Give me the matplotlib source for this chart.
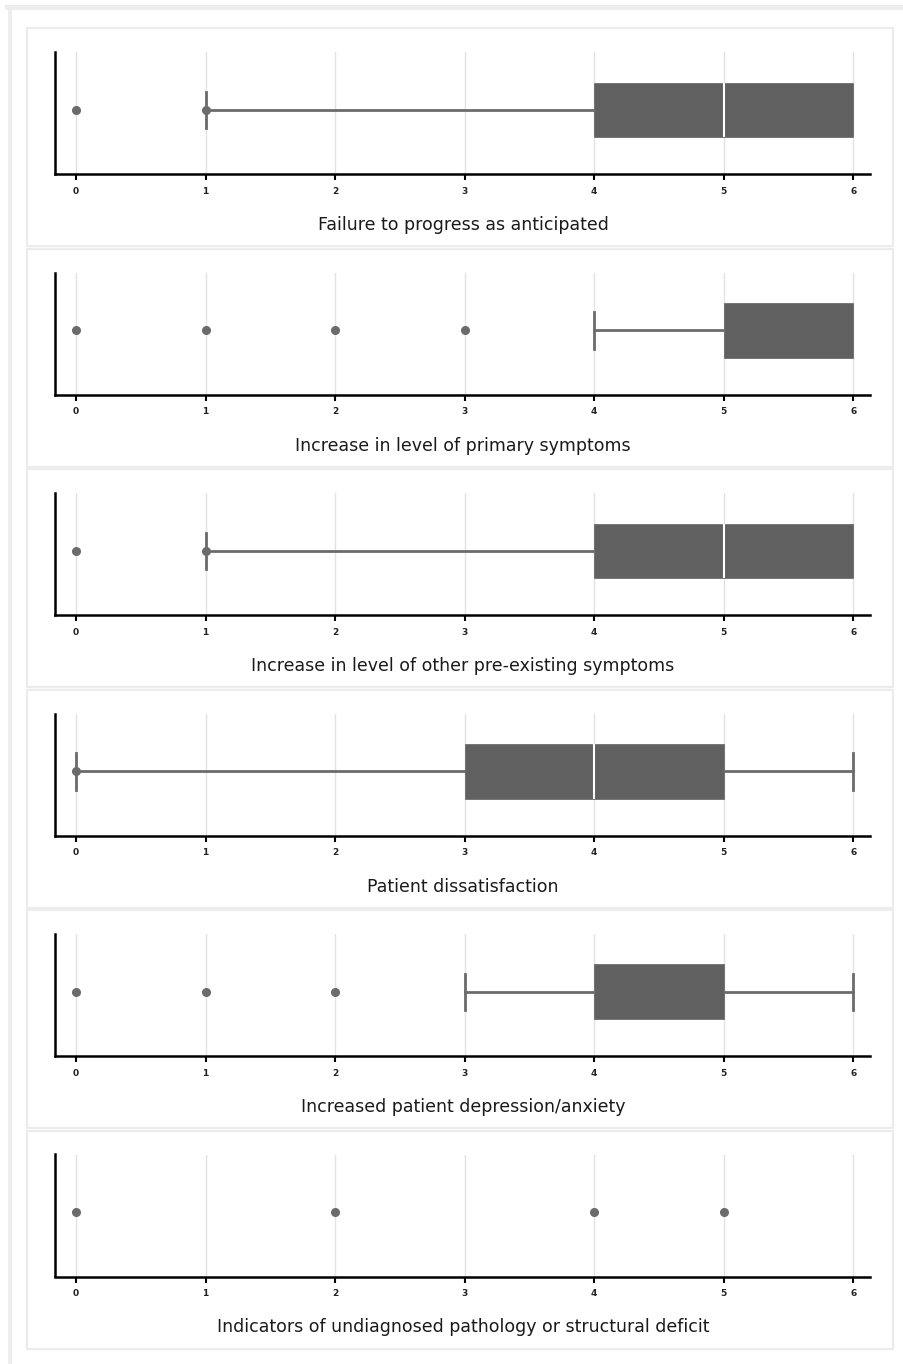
import matplotlib
matplotlib.use("Agg")
import matplotlib.pyplot as plt
from matplotlib.patches import Rectangle

# Survey items and their box-plot summaries (0-6 rating scale)
items = [
    "Failure to progress as anticipated",
    "Increase in level of primary symptoms",
    "Increase in level of other pre-existing symptoms",
    "Patient dissatisfaction",
    "Increased patient depression/anxiety",
    "Indicators of undiagnosed pathology or structural deficit",
]
q1 = [4, 5, 4, 3, 4, 6]
medians = [5, 6, 5, 4, 5, 6]
q3 = [6, 6, 6, 5, 5, 6]
whisker_low = [1, 4, 1, 0, 3, 6]
whisker_high = [6, 6, 6, 6, 6, 6]
outliers = [[0, 1], [0, 1, 2, 3], [0, 1], [0], [0, 1, 2], [0, 2, 4, 5]]
ticks = [0, 1, 2, 3, 4, 5, 6]

W, H = 904, 1364
fig = plt.figure(figsize=(W / 100, H / 100), dpi=100)
fig.patch.set_facecolor("white")

BOX = "#606060"
LINE = "#6b6b6b"
PANEL_EDGE = "#ececec"


def fx(px):
    return px / W


def fy(py):
    return 1 - py / H


# outer frame bands (top and left)
fig.add_artist(Rectangle((fx(5), fy(10)), fx(899), 5 / H, transform=fig.transFigure,
                         facecolor="#ededed", edgecolor="none", zorder=0))
fig.add_artist(Rectangle((fx(8), 0), fx(4), fy(5), transform=fig.transFigure,
                         facecolor="#ededed", edgecolor="none", zorder=0))

pitch = 220.5
for i, name in enumerate(items):
    top = 28 + i * pitch
    # panel border
    fig.add_artist(Rectangle((fx(27), fy(top + 218)), fx(866), 218 / H,
                             transform=fig.transFigure, facecolor="none",
                             edgecolor=PANEL_EDGE, lw=1.6, zorder=0))

    ax_top = top + 24
    ax_bot = top + 146
    ax = fig.add_axes([fx(55), fy(ax_bot), fx(870 - 55), (ax_bot - ax_top) / H])

    stats = [dict(med=medians[i], q1=q1[i], q3=q3[i],
                  whislo=whisker_low[i], whishi=whisker_high[i],
                  fliers=outliers[i], label=name)]
    res = ax.bxp(stats, positions=[0], widths=0.45, orientation="horizontal",
                 patch_artist=True, showfliers=True, capwidths=0.3,
                 boxprops=dict(facecolor=BOX, edgecolor=BOX, linewidth=0.5),
                 medianprops=dict(color="white", linewidth=1.5),
                 whiskerprops=dict(color=LINE, linewidth=2),
                 capprops=dict(color=LINE, linewidth=2),
                 flierprops=dict(marker="o", markerfacecolor=LINE,
                                 markeredgecolor=LINE, markersize=5.5))

    # hide degenerate elements that coincide with the box edges
    if medians[i] in (q1[i], q3[i]):
        res["medians"][0].set_visible(False)
    if whisker_low[i] == q1[i]:
        res["caps"][0].set_visible(False)
        res["whiskers"][0].set_visible(False)
    if whisker_high[i] == q3[i]:
        res["caps"][1].set_visible(False)
        res["whiskers"][1].set_visible(False)
    if q1[i] == q3[i]:
        res["boxes"][0].set_visible(False)

    ax.set_xlim(-0.162, 6.13)
    ax.set_ylim(-0.525, 0.475)
    ax.set_xticks(ticks)
    ax.set_xticklabels([str(t) for t in ticks], fontsize=6.5, fontweight="bold",
                       color="#222222")
    ax.set_yticks([])
    ax.tick_params(axis="x", length=4, width=1.5, color="black", pad=5)
    ax.grid(axis="x", color="#e3e3e3", linewidth=1)
    ax.set_axisbelow(True)
    for s in ("top", "right"):
        ax.spines[s].set_visible(False)
    for s in ("left", "bottom"):
        ax.spines[s].set_linewidth(1.8)
        ax.spines[s].set_color("black")

    fig.text(fx(463), fy(top + 197), name, ha="center", va="center",
             fontsize=12.5, color="#1a1a1a", family="DejaVu Sans")

fig.savefig("out.png", dpi=100)
